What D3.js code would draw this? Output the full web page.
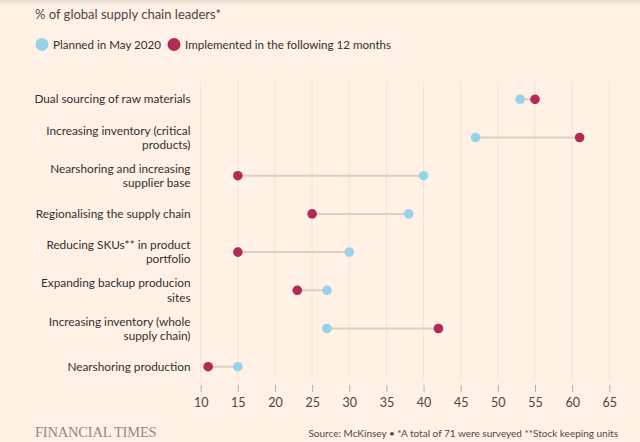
<!DOCTYPE html>
<html><head><meta charset="utf-8">
<script src="https://cdn.jsdelivr.net/npm/d3@7"></script>
<style>body{margin:0;background:#fff1e5;}svg{display:block;}</style>
</head><body>
<script>
const categories = [
  ["Dual sourcing of raw materials"],
  ["Increasing inventory (critical", "products)"],
  ["Nearshoring and increasing", "supplier base"],
  ["Regionalising the supply chain"],
  ["Reducing SKUs** in product", "portfolio"],
  ["Expanding backup producion", "sites"],
  ["Increasing inventory (whole", "supply chain)"],
  ["Nearshoring production"]
];
const planned = [53, 47, 40, 38, 30, 27, 27, 15];
const implemented = [55, 61, 15, 25, 15, 23, 42, 11];
const ticks = [10, 15, 20, 25, 30, 35, 40, 45, 50, 55, 60, 65];
const seriesNames = ["Planned in May 2020", "Implemented in the following 12 months"];
const colors = ["#96d2ea", "#b32a57"];

const W = 640, H = 442;
const font = "Lato, 'Noto Sans', sans-serif";
const svg = d3.select("body").append("svg").attr("width", W).attr("height", H);

const defs = svg.append("defs");
const g0 = defs.append("linearGradient").attr("id", "sh").attr("x1", 0).attr("y1", 0).attr("x2", 0).attr("y2", 1);
g0.append("stop").attr("offset", 0).attr("stop-color", "#e8dcd2");
g0.append("stop").attr("offset", 1).attr("stop-color", "#fff1e5");
svg.append("rect").attr("width", W).attr("height", H).attr("fill", "#fff1e5");
svg.append("rect").attr("width", W).attr("height", 6).attr("fill", "url(#sh)");

const x = d3.scaleLinear().domain([10, 65]).range([200.7, 609.3]);
const y = d3.scalePoint().domain(d3.range(categories.length)).range([99.3, 366.7]);

// gridlines
svg.append("g").selectAll("line").data(ticks).join("line")
  .attr("x1", d => x(d)).attr("x2", d => x(d))
  .attr("y1", 81).attr("y2", 379)
  .attr("stroke", "#f0e3d8").attr("stroke-width", 1);

// axis
const axis = svg.append("g").attr("transform", "translate(0,385)")
  .call(d3.axisBottom(x).tickValues(ticks).tickSize(7).tickPadding(6).tickFormat(d3.format("d")));
axis.select(".domain").remove();
axis.selectAll(".tick line").attr("stroke", "#b8aea5");
axis.selectAll(".tick text").attr("fill", "#4a4744").attr("font-family", font).attr("font-size", 12.5);

// title
svg.append("text").attr("x", 35).attr("y", 19).text("% of global supply chain leaders*")
  .attr("font-family", font).attr("font-size", 13).attr("fill", "#4d4845");

// legend
const leg = svg.append("g");
const legX = [42, 174];
seriesNames.forEach((n, i) => {
  leg.append("circle").attr("cx", legX[i]).attr("cy", 44.5).attr("r", 6.5).attr("fill", colors[i]);
  leg.append("text").attr("x", legX[i] + 11).attr("y", 49).text(n)
    .attr("font-family", font).attr("font-size", 11.6).attr("fill", "#33302e");
});

// labels
const lab = svg.append("g");
categories.forEach((lines, i) => {
  const cy = y(i);
  const t = lab.append("text").attr("text-anchor", "end").attr("font-family", font)
    .attr("font-size", 11.8).attr("fill", "#33302e");
  const off = lines.length === 1 ? [4] : [-3, 11.3];
  lines.forEach((l, j) => t.append("tspan").attr("x", 190.5).attr("y", cy + off[j]).text(l));
});

// connectors
svg.append("g").selectAll("line").data(categories.map((c, i) => i)).join("line")
  .attr("x1", i => x(planned[i])).attr("x2", i => x(implemented[i]))
  .attr("y1", i => y(i)).attr("y2", i => y(i))
  .attr("stroke", "#dccfc4").attr("stroke-width", 2);

// dots
[planned, implemented].forEach((arr, s) => {
  svg.append("g").selectAll("circle").data(arr).join("circle")
    .attr("cx", d => x(d)).attr("cy", (d, i) => y(i)).attr("r", 4.8).attr("fill", colors[s]);
});

// footer
svg.append("text").attr("x", 35).attr("y", 437).text("FINANCIAL TIMES")
  .attr("font-family", "'Liberation Serif', 'DejaVu Serif', serif").attr("font-size", 14.5)
  .attr("fill", "#8f8a86").attr("letter-spacing", -0.2);
svg.append("text").attr("x", 618).attr("y", 437).attr("text-anchor", "end")
  .text("Source: McKinsey • *A total of 71 were surveyed **Stock keeping units")
  .attr("font-family", font).attr("font-size", 10).attr("fill", "#4d4845");
</script>
</body></html>
